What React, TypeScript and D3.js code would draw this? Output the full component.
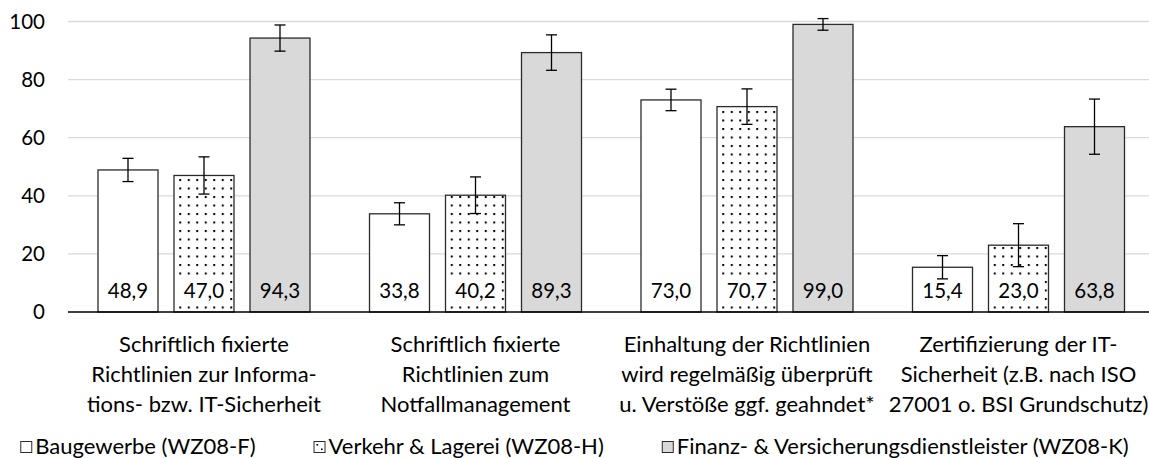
import React, { useLayoutEffect, useRef } from "react";
import * as d3 from "d3";

const categories: string[][] = [
  ["Schriftlich fixierte", "Richtlinien zur Informa-", "tions- bzw. IT-Sicherheit"],
  ["Schriftlich fixierte", "Richtlinien zum", "Notfallmanagement"],
  ["Einhaltung der Richtlinien", "wird regelmäßig überprüft", "u. Verstöße ggf. geahndet*"],
  ["Zertifizierung der IT-", "Sicherheit (z.B. nach ISO", "27001 o. BSI Grundschutz)"],
];
const seriesNames = ["Baugewerbe (WZ08-F)", "Verkehr & Lagerei (WZ08-H)", "Finanz- & Versicherungsdienstleister (WZ08-K)"];
const baugewerbe = [48.9, 33.8, 73.0, 15.4];
const verkehr = [47.0, 40.2, 70.7, 23.0];
const finanz = [94.3, 89.3, 99.0, 63.8];
const baugewerbeErr = [4.0, 3.8, 3.7, 4.0];
const verkehrErr = [6.4, 6.3, 6.1, 7.4];
const finanzErr = [4.5, 6.1, 2.0, 9.5];
const yTicks = [0, 20, 40, 60, 80, 100];

const W = 1149;
const H = 458;
const FONT = "Lato, 'Open Sans', sans-serif";
const FS = 20.5;
const FS_CAT = 22;

const series = [
  { name: seriesNames[0], values: baugewerbe, errs: baugewerbeErr, fill: "#ffffff", labelBg: false },
  { name: seriesNames[1], values: verkehr, errs: verkehrErr, fill: "url(#dots)", labelBg: true },
  { name: seriesNames[2], values: finanz, errs: finanzErr, fill: "#d9d9d9", labelBg: false },
];

const fmt = (v: number) => d3.format(".1f")(v).replace(".", ",");

export default function App() {
  const legendRef = useRef<SVGGElement>(null);

  const y = d3.scaleLinear().domain([0, 100]).range([312, 21.5]);
  const x0 = d3.scaleBand<number>().domain(d3.range(categories.length)).range([68.25, 1154.25]).padding(0);
  const bw0 = x0.bandwidth();
  const x1 = d3
    .scaleBand<number>()
    .domain(d3.range(series.length))
    .range([(bw0 - 212) / 2, (bw0 + 212) / 2])
    .paddingInner(16 / 76)
    .paddingOuter(0);
  const bw = x1.bandwidth();

  useLayoutEffect(() => {
    const g = d3.select(legendRef.current);
    const items = g.selectAll<SVGGElement, unknown>("g.item");
    const box = 11;
    const gapBT = 4;
    const gapItem = 58;
    const widths: number[] = [];
    items.each(function () {
      const t = this.querySelector("text") as SVGTextElement;
      widths.push(t.getComputedTextLength());
    });
    const total = widths.reduce((a, b) => a + b, 0) + widths.length * (box + gapBT) + (widths.length - 1) * gapItem;
    let cx = W / 2 - total / 2;
    items.each(function (_d, i) {
      d3.select(this).attr("transform", `translate(${cx},0)`);
      cx += box + gapBT + widths[i] + gapItem;
    });
  }, []);

  return (
    <svg
      width={W}
      height={H}
      style={{ position: "absolute", left: 0, top: 0, display: "block", background: "#fff" }}
      fontFamily={FONT}
    >
      <defs>
        <pattern id="dots" patternUnits="userSpaceOnUse" width={8.5} height={8.5} x={0.5} y={0.5}>
          <rect width={8.5} height={8.5} fill="#ffffff" />
          <rect x={0} y={0} width={2} height={2} fill="#000" />
        </pattern>
      </defs>
      <rect width={W} height={H} fill="#fff" />
      {yTicks.filter((t) => t > 0).map((t) => (
        <line key={t} x1={68} x2={W} y1={y(t)} y2={y(t)} stroke="#d9d9d9" strokeWidth={1.3} />
      ))}
      {yTicks.map((t) => (
        <text key={t} x={45} y={y(t)} dy="0.36em" textAnchor="end" fontSize={FS} fill="#000">
          {t}
        </text>
      ))}
      {categories.map((_c, ci) => (
        <g key={ci} transform={`translate(${x0(ci)},0)`}>
          {series.map((s, si) => {
            const bx = x1(si) as number;
            const v = s.values[ci];
            const e = s.errs[ci];
            const cxb = bx + bw / 2;
            return (
              <g key={si}>
                <rect x={bx} y={y(v)} width={bw} height={y(0) - y(v)} fill={s.fill} stroke="#2b2b2b" strokeWidth={1.3} />
                {s.labelBg && <rect x={cxb - 26} y={y(0) - 35} width={52} height={27} fill="#fff" />}
                <text x={cxb} y={y(0) - 14.5} textAnchor="middle" fontSize={FS} fill="#000">
                  {fmt(v)}
                </text>
                <line x1={cxb} x2={cxb} y1={y(v + e)} y2={y(v - e)} stroke="#000" strokeWidth={1.3} />
                <line x1={cxb - 5.5} x2={cxb + 5.5} y1={y(v + e)} y2={y(v + e)} stroke="#000" strokeWidth={1.3} />
                <line x1={cxb - 5.5} x2={cxb + 5.5} y1={y(v - e)} y2={y(v - e)} stroke="#000" strokeWidth={1.3} />
              </g>
            );
          })}
        </g>
      ))}
      <line x1={68} x2={W} y1={y(0)} y2={y(0)} stroke="#000" strokeWidth={1.6} />
      {categories.map((lines, ci) => (
        <text key={ci} textAnchor="middle" fontSize={FS_CAT} fill="#000">
          {lines.map((ln, li) => (
            <tspan key={li} x={(x0(ci) as number) + bw0 / 2} y={352 + li * 30}>
              {ln}
            </tspan>
          ))}
        </text>
      ))}
      <g ref={legendRef}>
        {series.map((s, si) => (
          <g key={si} className="item">
            <rect x={0.5} y={441.5} width={11} height={11} fill={si === 1 ? "#fff" : s.fill} stroke="#2b2b2b" strokeWidth={1} />
            {si === 1 && (
              <>
                <rect x={3} y={444} width={1.6} height={1.6} fill="#000" />
                <rect x={7.5} y={448.5} width={1.6} height={1.6} fill="#000" />
              </>
            )}
            <text x={15} y={454} fontSize={FS_CAT} fill="#000">
              {s.name}
            </text>
          </g>
        ))}
      </g>
    </svg>
  );
}
